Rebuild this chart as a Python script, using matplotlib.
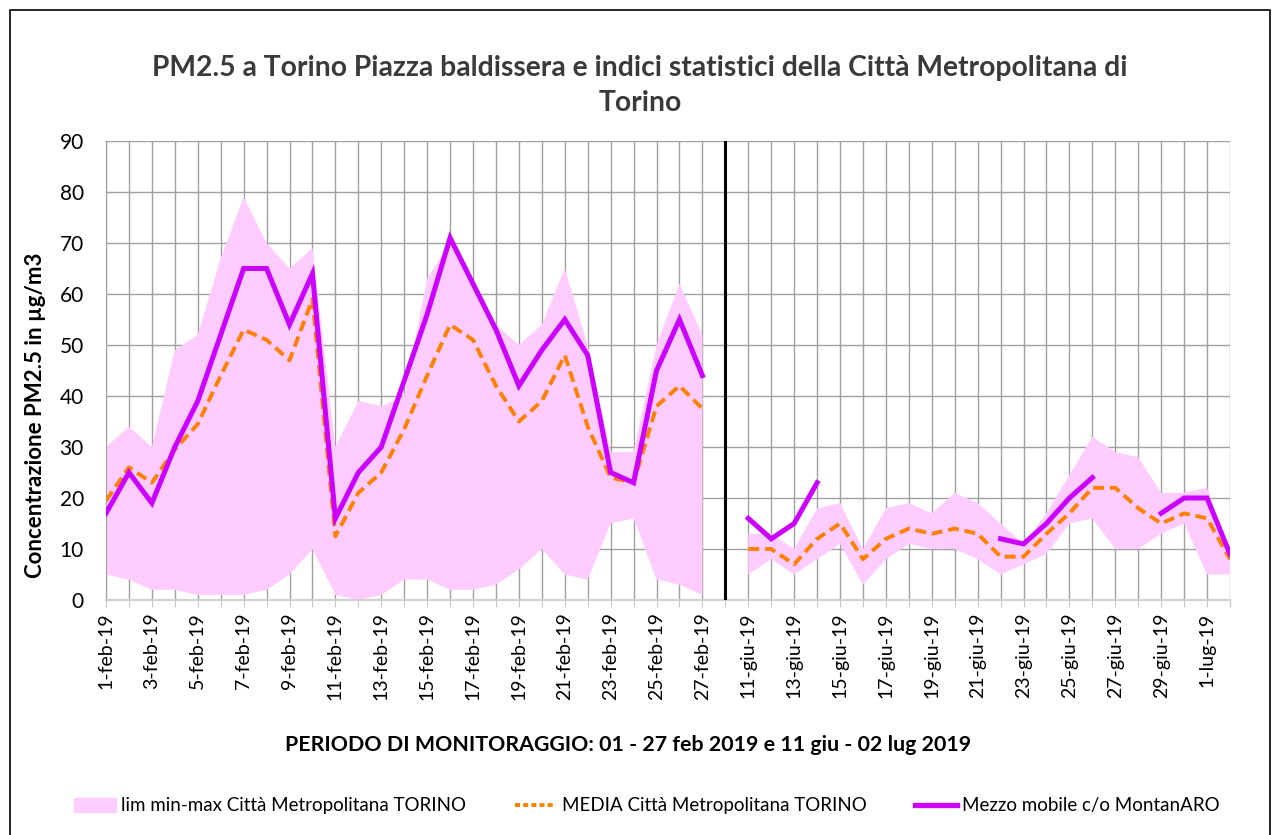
import numpy as np
import matplotlib.pyplot as plt
from matplotlib.patches import Patch, Rectangle
from matplotlib.lines import Line2D

plt.rcParams['font.family'] = ['Lato', 'DejaVu Sans']

# 1-27 feb 2019
max_feb = [30, 34, 30, 49, 52, 67, 79, 70, 65, 69, 30, 39, 38, 40, 63, 70, 62, 54, 50, 54, 65, 50, 29, 29, 50, 62, 52]
min_feb = [5, 4, 2, 2, 1, 1, 1, 2, 5, 10, 1, 0, 1, 4, 4, 2, 2, 3, 6, 10, 5, 4, 15, 16, 4, 3, 1]
media_feb = [19.5, 26, 23, 29.5, 34.5, 44, 53, 51, 47, 59, 12.5, 21, 25, 33.5, 44, 54, 51, 42, 35, 39, 48, 34, 24, 23, 38, 42, 37.5]
mezzo_feb = [17, 25, 19, 30, 39, 52, 65, 65, 54, 64, 16, 25, 30, 43, 56, 71, 62, 53, 42, 49, 55, 48, 25, 23, 45, 55, 44]

# 11 giu - 2 lug 2019
nan = np.nan
max_giu = [13, 13, 10, 18, 19, 10, 18, 19, 17, 21, 19, 15, 11, 17, 24.5, 32, 29, 28, 21, 21, 22, 8]
min_giu = [5, 8, 5, 8, 11, 3, 8, 11, 10, 10, 8, 5, 7, 9, 15, 16, 10, 10, 13, 15, 5, 5]
media_giu = [10, 10, 7, 12, 15, 8, 12, 14, 13, 14, 13, 8.5, 8.5, 13, 17, 22, 22, 18, 15, 17, 16, 8]
mezzo_giu = [16, 12, 15, 23, nan, nan, nan, nan, nan, nan, nan, 12, 11, 15, 20, 24, nan, nan, 17, 20, 20, 9]

labels = ([f'{d}-feb-19' for d in range(1, 28)] + [''] +
          [f'{d}-giu-19' for d in range(11, 31)] + ['1-lug-19', '2-lug-19'])

# one empty category between the two periods
lim_max = np.concatenate([max_feb, [nan], max_giu])
lim_min = np.concatenate([min_feb, [nan], min_giu])
media = np.concatenate([media_feb, [nan], media_giu])
mezzo = np.concatenate([mezzo_feb, [nan], mezzo_giu])
x = np.arange(len(labels))
sep = len(max_feb)

pink = '#ffccff'
orange = '#ff8000'
purple = '#cc00ff'

fig = plt.figure(figsize=(12.79, 8.35), dpi=100)
ax = fig.add_axes([106/1279, 1-600/835, (1230-106)/1279, (600-141)/835])

ax.fill_between(x, lim_min, lim_max, color=pink, lw=0, zorder=2)
ax.plot(x, media, color=orange, lw=2.8, dashes=(2.8, 1.5), zorder=4)
ax.plot(x, mezzo, color=purple, lw=3.6, zorder=5, solid_joinstyle='miter')
ax.axvline(sep, color='black', lw=2.2, zorder=6)

ax.set_xlim(0, len(labels) - 1)
ax.set_ylim(0, 90)
ax.set_yticks(range(0, 91, 10))
ax.set_xticks(x)
ax.set_xticklabels([lab if i % 2 == 0 else '' for i, lab in enumerate(labels)],
                   rotation=90, fontsize=14)
ax.tick_params(axis='y', length=0, labelsize=15, pad=16)
ax.tick_params(axis='x', length=5, color='#c8c8c8', pad=4)

ax.grid(True, color='#a0a0a0', lw=1, zorder=1)
ax.set_axisbelow(True)
for s in ['top', 'right']:
    ax.spines[s].set_visible(False)
ax.spines['left'].set_color('#a0a0a0')
ax.spines['bottom'].set_color('#d0d0d0')
ax.spines['bottom'].set_linewidth(1.5)

fig.text(640/1279, 1-68/835, 'PM2.5 a Torino Piazza baldissera e indici statistici della Città Metropolitana di',
         ha='center', va='center', fontsize=20.3, fontweight='bold', color='#3a3a3a')
fig.text(640/1279, 1-103/835, 'Torino', ha='center', va='center', fontsize=20.3,
         fontweight='bold', color='#3a3a3a')
fig.text(36/1279, 1-415/835, 'Concentrazione PM2.5 in µg/m3', rotation=90,
         ha='center', va='center', fontsize=16, fontweight='bold')
fig.text(628/1279, 1-745/835, 'PERIODO DI MONITORAGGIO: 01 - 27 feb 2019 e 11 giu - 02 lug 2019',
         ha='center', va='center', fontsize=15.4, fontweight='bold')

handles = [Patch(color=pink),
           Line2D([], [], color=orange, lw=2.8, dashes=(1.3, 0.8)),
           Line2D([], [], color=purple, lw=3.8)]
names = ['lim min-max Città Metropolitana TORINO', 'MEDIA Città Metropolitana TORINO',
         'Mezzo mobile c/o MontanARO']
fig.legend(handles, names, loc='center', bbox_to_anchor=(647/1279, 1-806/835), ncol=3,
           frameon=False, fontsize=13.5, handlelength=2.2, handletextpad=0.3, columnspacing=2.6)

# outer chart border
fig.patches.append(Rectangle((10/1279, -0.02), 1260/1279, 1.02 - 10/835, transform=fig.transFigure,
                             fill=False, edgecolor='black', lw=1.2))

plt.savefig('out.png', dpi=100)
